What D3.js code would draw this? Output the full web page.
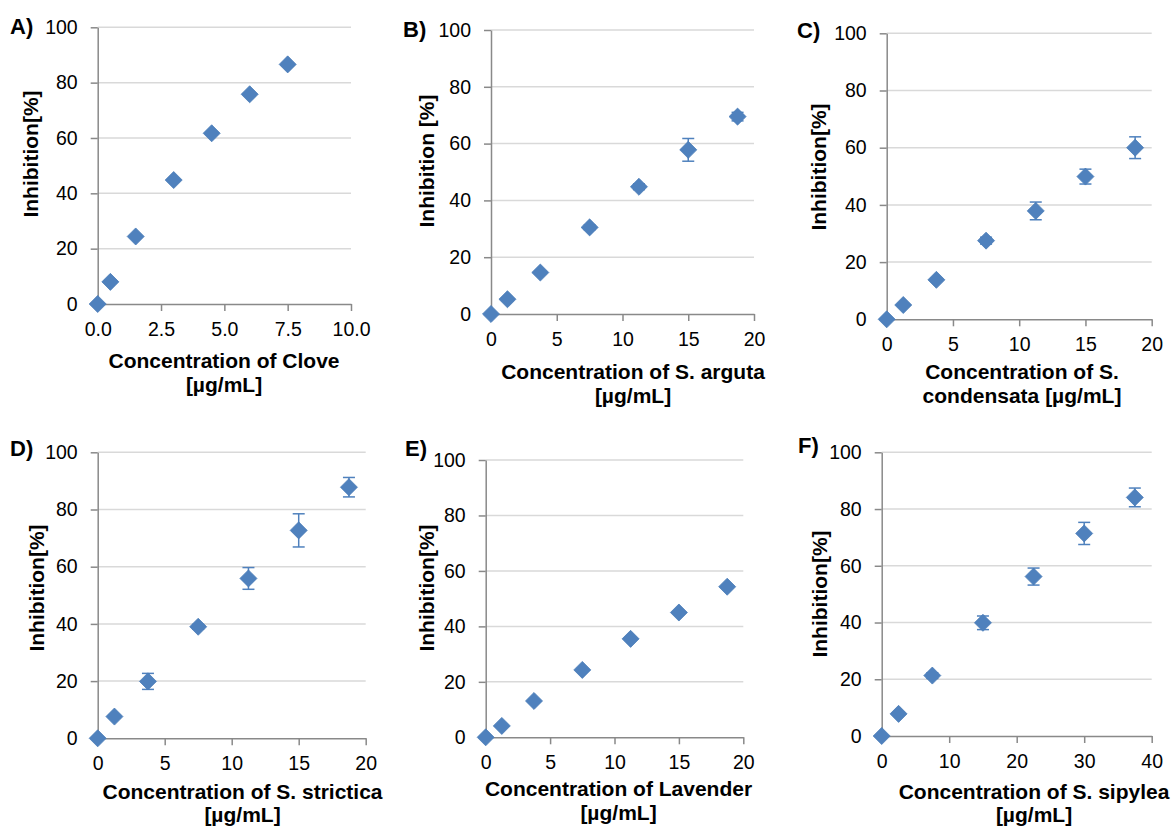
<!DOCTYPE html>
<html>
<head>
<meta charset="utf-8">
<script src="https://cdn.jsdelivr.net/npm/d3@7"></script>
<style>
  body { margin: 0; background: #fff; }
  svg { display: block; font-family: "Liberation Sans", Arial, sans-serif; }
  .grid line { stroke: #d9d9d9; stroke-width: 1.5; }
  .axis path, .axis line { stroke: #898989; stroke-width: 1.5; }
  .axis text { font-size: 19.5px; fill: #000; }
  .title { font-size: 21px; font-weight: bold; fill: #000; }
  .letter { font-size: 22px; font-weight: bold; fill: #000; }
</style>
</head>
<body>
<script>
// values (inhibition %, error = +/- %)
var letters = ["A)", "B)", "C)", "D)", "E)", "F)"];

var xClove = [0, 0.5, 1.5, 3, 4.5, 6, 7.5];
var yClove = [0, 8.0, 24.4, 44.8, 61.7, 75.8, 86.6];
var eClove = [0, 0.5, 0.5, 0.5, 0.5, 0.5, 0.5];

var xArguta = [0, 1.25, 3.75, 7.5, 11.25, 15, 18.75];
var yArguta = [0, 5.2, 14.6, 30.5, 44.8, 57.8, 69.5];
var eArguta = [0, 0.5, 0.5, 0.8, 1.0, 4.0, 1.5];

var xCondensata = [0, 1.25, 3.75, 7.5, 11.25, 15, 18.75];
var yCondensata = [0, 5.0, 13.8, 27.5, 37.9, 49.9, 60.0];
var eCondensata = [0, 0.5, 0.5, 1.2, 3.1, 2.6, 3.8];

var xStrictica = [0, 1.25, 3.75, 7.5, 11.25, 15, 18.75];
var yStrictica = [0, 7.6, 19.9, 39.0, 55.9, 72.7, 87.8];
var eStrictica = [0, 0.5, 2.8, 0.8, 3.8, 5.8, 3.4];

var xLavender = [0, 1.25, 3.75, 7.5, 11.25, 15, 18.75];
var yLavender = [0, 4.1, 13.1, 24.3, 35.5, 45.0, 54.3];
var eLavender = [0, 0.5, 0.5, 0.5, 0.5, 0.5, 0.5];

var xSipylea = [0, 2.5, 7.5, 15, 22.5, 30, 37.5];
var ySipylea = [0, 7.8, 21.3, 39.9, 56.2, 71.4, 84.1];
var eSipylea = [0, 0.5, 1.0, 2.4, 3.0, 3.9, 3.3];

var yTicks = [0, 20, 40, 60, 80, 100];
var xTicksClove = [0, 2.5, 5, 7.5, 10];
var xTicks20 = [0, 5, 10, 15, 20];
var xTicks40 = [0, 10, 20, 30, 40];

var yTitles = ["Inhibition[%]", "Inhibition [%]", "Inhibition[%]", "Inhibition[%]", "Inhibition[%]", "Inhibition[%]"];
var xTitles = [
  ["Concentration of Clove", "[\u00b5g/mL]"],
  ["Concentration of S. arguta", "[\u00b5g/mL]"],
  ["Concentration of S.", "condensata [\u00b5g/mL]"],
  ["Concentration of S. strictica", "[\u00b5g/mL]"],
  ["Concentration of Lavender", "[\u00b5g/mL]"],
  ["Concentration of S. sipylea", "[\u00b5g/mL]"]
];

var blue = "#4f81bd";

// layout of each panel (plot box, label spots)
var panels = [
  { xs: xClove, ys: yClove, es: eClove, xt: xTicksClove, fmt: d3.format(".1f"),
    box: [97.7, 27.3, 351, 304], letter: [10, 34], yT: [37.5, 154], xT: [224, 368] },
  { xs: xArguta, ys: yArguta, es: eArguta, xt: xTicks20, fmt: d3.format("d"),
    box: [491, 30, 754, 314], letter: [403, 37], yT: [434, 161], xT: [633, 379] },
  { xs: xCondensata, ys: yCondensata, es: eCondensata, xt: xTicks20, fmt: d3.format("d"),
    box: [886.7, 33.3, 1151.7, 319.3], letter: [797, 38], yT: [826, 167], xT: [1022, 379] },
  { xs: xStrictica, ys: yStrictica, es: eStrictica, xt: xTicks20, fmt: d3.format("d"),
    box: [97.7, 452.3, 365.7, 738.3], letter: [10, 456], yT: [44, 588], xT: [242.5, 798.5] },
  { xs: xLavender, ys: yLavender, es: eLavender, xt: xTicks20, fmt: d3.format("d"),
    box: [485.7, 460, 743.3, 737.3], letter: [405, 456], yT: [434, 588], xT: [618.5, 796] },
  { xs: xSipylea, ys: ySipylea, es: eSipylea, xt: xTicks40, fmt: d3.format("d"),
    box: [881.7, 452.3, 1151.7, 736], letter: [798, 453], yT: [827, 594], xT: [1034, 798.5] }
];

var svg = d3.select("body").append("svg")
  .attr("width", 1176)
  .attr("height", 827);

var diamond = d3.symbol().type(d3.symbolDiamond2).size(185);

panels.forEach(function(p, i) {
  var x0 = p.box[0], y0 = p.box[1], x1 = p.box[2], y1 = p.box[3];
  var xScale = d3.scaleLinear().domain([0, d3.max(p.xt)]).range([x0, x1]);
  var yScale = d3.scaleLinear().domain([0, 100]).range([y1, y0]);

  var g = svg.append("g").attr("class", "panel");

  // gridlines
  g.append("g")
    .attr("class", "grid")
    .selectAll("line")
    .data(yTicks.filter(function(t) { return t > 0; }))
    .enter().append("line")
    .attr("x1", x0)
    .attr("x2", x1)
    .attr("y1", function(d) { return yScale(d); })
    .attr("y2", function(d) { return yScale(d); });

  g.append("g")
    .attr("class", "axis")
    .attr("transform", "translate(" + x0 + ",0)")
    .call(d3.axisLeft(yScale).tickValues(yTicks).tickSize(7).tickPadding(13).tickSizeOuter(0));

  g.append("g")
    .attr("class", "axis")
    .attr("transform", "translate(0," + y1 + ")")
    .call(d3.axisBottom(xScale).tickValues(p.xt).tickFormat(p.fmt).tickSize(7).tickPadding(11).tickSizeOuter(0));

  var pts = p.xs.map(function(v, k) { return { x: v, y: p.ys[k], e: p.es[k] }; });

  // error bars
  var eb = g.append("g").selectAll("g")
    .data(pts.filter(function(d) { return d.e > 0; }))
    .enter().append("g")
    .attr("stroke", blue)
    .attr("stroke-width", 1.5);
  eb.append("line")
    .attr("x1", function(d) { return xScale(d.x); })
    .attr("x2", function(d) { return xScale(d.x); })
    .attr("y1", function(d) { return yScale(d.y + d.e); })
    .attr("y2", function(d) { return yScale(d.y - d.e); });
  [1, -1].forEach(function(s) {
    eb.append("line")
      .attr("x1", function(d) { return xScale(d.x) - 6; })
      .attr("x2", function(d) { return xScale(d.x) + 6; })
      .attr("y1", function(d) { return yScale(d.y + s * d.e); })
      .attr("y2", function(d) { return yScale(d.y + s * d.e); });
  });

  g.append("g").selectAll("path")
    .data(pts)
    .enter().append("path")
    .attr("d", diamond)
    .attr("transform", function(d) { return "translate(" + xScale(d.x) + "," + yScale(d.y) + ")"; })
    .attr("fill", blue)
    .attr("stroke", "#4a7cb8")
    .attr("stroke-width", 0.8);

  g.append("text")
    .attr("class", "letter")
    .attr("x", p.letter[0])
    .attr("y", p.letter[1])
    .text(letters[i]);

  g.append("text")
    .attr("class", "title")
    .attr("text-anchor", "middle")
    .attr("transform", "translate(" + p.yT[0] + "," + p.yT[1] + ") rotate(-90)")
    .text(yTitles[i]);

  xTitles[i].forEach(function(line, k) {
    g.append("text")
      .attr("class", "title")
      .attr("text-anchor", "middle")
      .attr("x", p.xT[0])
      .attr("y", p.xT[1] + k * 23.5)
      .text(line);
  });
});
</script>
</body>
</html>
